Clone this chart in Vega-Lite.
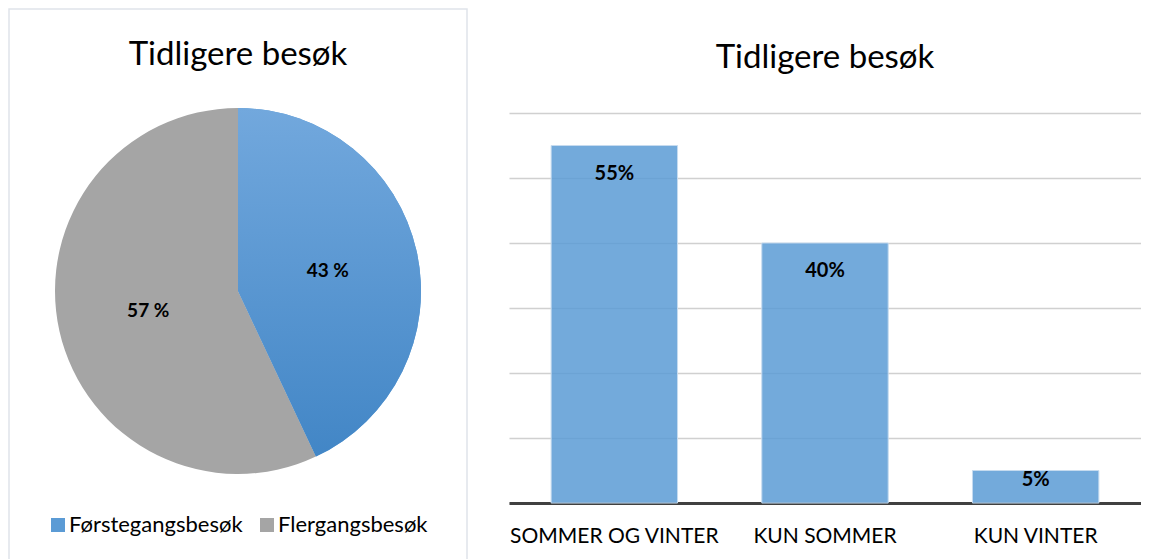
{
  "$schema": "https://vega.github.io/schema/vega-lite/v6.json",
  "padding": {"left": 8, "top": 8, "right": 0, "bottom": 0},
  "background": "white",
  "config": {
    "view": {"stroke": null},
    "font": "Lato",
    "title": {"font": "Lato", "fontSize": 33, "fontWeight": "normal", "color": "#000000", "anchor": "middle", "baseline": "alphabetic", "frame": "group"}
  },
  "datasets": {
    "pie": [
      {"k": "Førstegangsbesøk", "v": 43, "i": 1, "label": "43 %"},
      {"k": "Flergangsbesøk", "v": 57, "i": 2, "label": "57 %"}
    ],
    "bars": [
      {"c": "SOMMER OG VINTER", "v": 55, "label": "55%"},
      {"c": "KUN SOMMER", "v": 40, "label": "40%"},
      {"c": "KUN VINTER", "v": 5, "label": "5%"}
    ]
  },
  "hconcat": [
    {
      "width": 458,
      "height": 564,
      "view": {"stroke": "#dfe4ea", "strokeWidth": 1.5},
      "title": {"text": "Tidligere besøk", "offset": -63},
      "data": {"name": "pie"},
      "encoding": {
        "theta": {"field": "v", "type": "quantitative", "stack": true},
        "order": {"field": "i", "type": "quantitative"}
      },
      "layer": [
        {
          "mark": {"type": "arc", "outerRadius": 183},
          "encoding": {
            "color": {
              "field": "k", "type": "nominal",
              "scale": {"domain": ["Førstegangsbesøk", "Flergangsbesøk"], "range": ["#5b9bd5", "#a5a5a5"]},
              "legend": {
                "orient": "none", "legendX": 38, "legendY": 505, "direction": "horizontal",
                "title": null, "symbolType": "square", "symbolSize": 196, "symbolStrokeWidth": 0,
                "labelFont": "Lato", "labelFontSize": 22, "labelColor": "#000000", "labelOffset": 0,
                "labelLimit": 400, "columnPadding": 13
              }
            }
          }
        },
        {
          "mark": {
            "type": "arc", "outerRadius": 183,
            "fill": {"gradient": "linear", "x1": 0, "y1": 0, "x2": 0, "y2": 1,
                     "stops": [{"offset": 0, "color": "#72a8dd"}, {"offset": 1, "color": "#4286c6"}]}
          },
          "encoding": {
            "opacity": {"condition": {"test": "datum.k === 'Førstegangsbesøk'", "value": 1}, "value": 0}
          }
        },
        {
          "mark": {"type": "text", "radius": 92, "font": "Lato", "fontSize": 19, "fontWeight": "bold", "color": "#000000"},
          "encoding": {"text": {"field": "label"}}
        }
      ]
    },
    {
      "width": 632,
      "height": 494,
      "title": {"text": "Tidligere besøk", "offset": -66},
      "data": {"name": "bars"},
      "encoding": {
        "x": {
          "field": "c", "type": "nominal", "sort": null,
          "scale": {"paddingInner": 0.4, "paddingOuter": 0.2},
          "axis": {"title": null, "labelAngle": 0, "ticks": false, "domainColor": "#404040", "domainWidth": 3,
                   "labelFont": "Lato", "labelFontSize": 21, "labelColor": "#000000", "labelPadding": 22,
                   "labelLimit": 400}
        },
        "y": {
          "field": "v", "type": "quantitative", "scale": {"domain": [0, 76]},
          "axis": {"title": null, "labels": false, "ticks": false, "domain": false, "grid": true,
                   "values": [0, 10, 20, 30, 40, 50, 60], "gridColor": "#d0d0d0", "gridWidth": 1.5}
        }
      },
      "layer": [
        {"mark": {"type": "bar", "color": "#5b9bd5", "fillOpacity": 0.85, "stroke": "#c6dbef", "strokeWidth": 1}},
        {
          "transform": [{"filter": "datum.v >= 10"}],
          "mark": {"type": "text", "baseline": "middle", "dy": 28, "font": "Lato", "fontSize": 20, "fontWeight": "bold", "color": "#000000"},
          "encoding": {"text": {"field": "label"}}
        },
        {
          "transform": [{"filter": "datum.v < 10"}],
          "mark": {"type": "text", "baseline": "middle", "dy": 9, "font": "Lato", "fontSize": 20, "fontWeight": "bold", "color": "#000000"},
          "encoding": {"text": {"field": "label"}}
        }
      ]
    }
  ],
  "spacing": 41
}
